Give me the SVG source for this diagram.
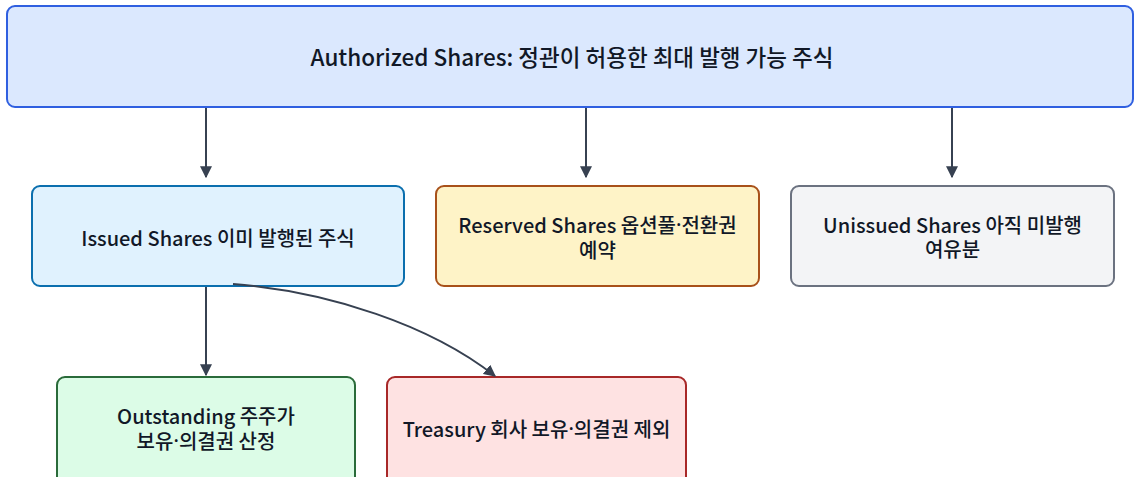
<svg xmlns="http://www.w3.org/2000/svg" width="1134" height="477" viewBox="0 0 1134 477">
<defs>
<style>
text{font-family:"Noto Sans CJK KR","Noto Sans",sans-serif;font-size:20px;font-weight:500;fill:#111827;text-anchor:middle;dominant-baseline:central}
.d{font-family:"Noto Sans",sans-serif}
.box{stroke-width:2}
.edge{fill:none;stroke:#374151;stroke-width:2;marker-end:url(#ah)}
</style>
<marker id="ah" viewBox="0 0 10 10" refX="9" refY="5" markerWidth="6" markerHeight="6" orient="auto" markerUnits="strokeWidth">
<path d="M0,0 L10,5 L0,10 z" fill="#374151"/>
</marker>
</defs>
<rect width="1134" height="477" fill="#ffffff"/>
<g id="authorized">
<rect class="box" x="7" y="6" width="1126" height="101" rx="8" fill="#dbe8fe" stroke="#2f5fe0"/>
<text x="572" y="56" style="font-size:22.5px">Authorized Shares: 정관이 허용한 최대 발행 가능 주식</text>
</g>
<g id="issued">
<rect class="box" x="32" y="186" width="372" height="100" rx="8" fill="#e0f2fe" stroke="#0b6fae"/>
<text x="218" y="237">Issued Shares 이미 발행된 주식</text>
</g>
<g id="reserved">
<rect class="box" x="436" y="186" width="323" height="100" rx="8" fill="#fef3c7" stroke="#a8511a"/>
<text x="597.5" y="224">Reserved Shares 옵션풀<tspan class="d">·</tspan>전환권<tspan x="597.5" dy="25">예약</tspan></text>
</g>
<g id="unissued">
<rect class="box" x="791" y="186" width="323" height="100" rx="8" fill="#f3f4f6" stroke="#6b7280"/>
<text x="952.5" y="224">Unissued Shares 아직 미발행<tspan x="952.5" dy="24">여유분</tspan></text>
</g>
<g id="outstanding">
<rect class="box" x="57" y="377" width="298" height="110" rx="8" fill="#dcfce7" stroke="#2a6b3a"/>
<text x="206" y="415">Outstanding 주주가<tspan x="206" dy="25">보유<tspan class="d">·</tspan>의결권 산정</tspan></text>
</g>
<g id="treasury">
<rect class="box" x="387" y="377" width="299" height="110" rx="8" fill="#fee2e2" stroke="#a82828"/>
<text x="536.5" y="428">Treasury 회사 보유<tspan class="d">·</tspan>의결권 제외</text>
</g>
<g id="edges">
<path class="edge" d="M206,108 L206,177"/>
<path class="edge" d="M586,108 L586,177"/>
<path class="edge" d="M952,108 L952,177"/>
<path class="edge" d="M206,287 L206,375"/>
<path class="edge" d="M233,284 C330,292 430,325 495,376"/>
</g>
</svg>
